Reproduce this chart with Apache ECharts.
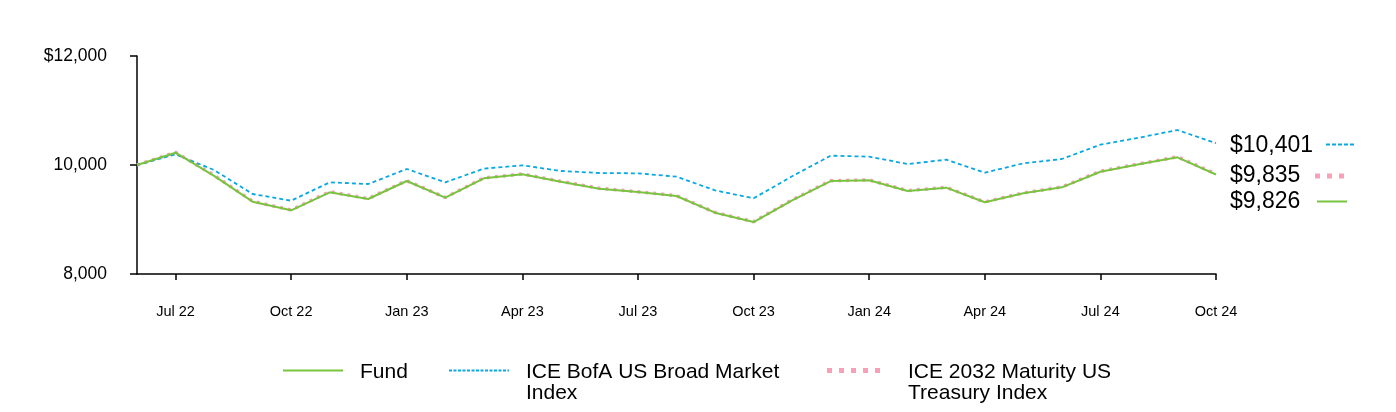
<!DOCTYPE html>
<html><head><meta charset="utf-8">
<script src="https://cdn.jsdelivr.net/npm/echarts@6/dist/echarts.min.js"></script>
<style>html,body{margin:0;padding:0;background:#fff}#c{width:1396px;height:412px}</style>
</head><body><div id="c"></div>
<script>
const months = ["Jun 22","Jul 22","Aug 22","Sep 22","Oct 22","Nov 22","Dec 22","Jan 23","Feb 23","Mar 23","Apr 23","May 23","Jun 23","Jul 23","Aug 23","Sep 23","Oct 23","Nov 23","Dec 23","Jan 24","Feb 24","Mar 24","Apr 24","May 24","Jun 24","Jul 24","Aug 24","Sep 24","Oct 24"];
const fund = [10000,10226,9800,9327,9169,9499,9376,9706,9400,9756,9829,9694,9565,9504,9431,9125,8954,9350,9706,9719,9523,9584,9316,9480,9590,9877,10013,10141,9826];
const broad = [10000,10196,9908,9468,9345,9682,9651,9927,9682,9933,9994,9890,9853,9847,9786,9535,9389,9793,10171,10153,10018,10097,9859,10031,10110,10373,10501,10642,10401];
const treas = [10000,10232,9810,9335,9175,9510,9385,9712,9405,9762,9836,9700,9572,9510,9438,9130,8960,9358,9712,9725,9530,9590,9322,9488,9598,9885,10020,10150,9835];
const seriesNames = ["Fund","ICE BofA US Broad Market Index","ICE 2032 Maturity US Treasury Index"];
const legendLabels = ["Fund","ICE BofA US Broad Market\nIndex","ICE 2032 Maturity US\nTreasury Index"];
const endLabels = ["$10,401","$9,835","$9,826"];
const yTicks = {8000:"8,000",10000:"10,000",12000:"$12,000"};

const GREEN="#78C43F", BLUE="#0AA8E0", PINK="#F7A0B8";
const FONT="'Liberation Sans', Arial, sans-serif";
const chart = echarts.init(document.getElementById('c'));
const showIdx = (i)=> i%3===1;
chart.setOption({
  animation:false,
  grid:{left:137,right:180,top:56,bottom:138,containLabel:false},
  xAxis:{type:'category',data:months,boundaryGap:false,
    axisLine:{lineStyle:{color:'#000',width:1.5}},
    axisTick:{show:true,interval:showIdx,length:6,lineStyle:{color:'#000',width:1.5}},
    axisLabel:{interval:showIdx,color:'#000',fontSize:14.5,fontFamily:FONT,margin:30}},
  yAxis:{type:'value',min:8000,max:12000,interval:2000,
    axisLine:{show:true,lineStyle:{color:'#000',width:1.5}},
    axisTick:{show:true,length:7,lineStyle:{color:'#000',width:1.5}},
    splitLine:{show:false},
    axisLabel:{color:'#000',fontSize:17.5,fontFamily:FONT,margin:30,formatter:v=>yTicks[v]||''}},
  series:[
    {name:seriesNames[2],type:'line',data:treas,symbol:'none',z:2,lineStyle:{color:PINK,width:3.5,type:[3,5]}},
    {name:seriesNames[1],type:'line',data:broad,symbol:'none',z:3,lineStyle:{color:BLUE,width:1.8,type:[4,3]}},
    {name:seriesNames[0],type:'line',data:fund,symbol:'none',z:4,lineStyle:{color:GREEN,width:2}}
  ],
  graphic:[
    {type:'text',x:1230,y:146,style:{text:endLabels[0],font:"23px "+FONT,fill:'#000',verticalAlign:'middle'}},
    {type:'text',x:1230,y:176,style:{text:endLabels[1],font:"23px "+FONT,fill:'#000',verticalAlign:'middle'}},
    {type:'text',x:1230,y:201.5,style:{text:endLabels[2],font:"23px "+FONT,fill:'#000',verticalAlign:'middle'}},
    {type:'line',shape:{x1:1326,y1:144.5,x2:1355,y2:144.5},style:{stroke:BLUE,lineWidth:2,lineDash:[4,2]}},
    {type:'line',shape:{x1:1315,y1:176,x2:1347,y2:176},style:{stroke:PINK,lineWidth:5,lineDash:[5,7]}},
    {type:'line',shape:{x1:1317,y1:201.5,x2:1347,y2:201.5},style:{stroke:GREEN,lineWidth:2}},
    {type:'line',shape:{x1:283,y1:370.5,x2:343,y2:370.5},style:{stroke:GREEN,lineWidth:2}},
    {type:'text',x:360,y:361.5,style:{text:legendLabels[0],font:"21px "+FONT,fill:'#000',lineHeight:21}},
    {type:'line',shape:{x1:449,y1:370.5,x2:509,y2:370.5},style:{stroke:BLUE,lineWidth:2,lineDash:[3,1.5]}},
    {type:'text',x:526,y:361.5,style:{text:legendLabels[1],font:"21px "+FONT,fill:'#000',lineHeight:21}},
    {type:'line',shape:{x1:827,y1:370.5,x2:882,y2:370.5},style:{stroke:PINK,lineWidth:5,lineDash:[5,7]}},
    {type:'text',x:908,y:361.5,style:{text:legendLabels[2],font:"21px "+FONT,fill:'#000',lineHeight:21}}
  ]
});
</script></body></html>
